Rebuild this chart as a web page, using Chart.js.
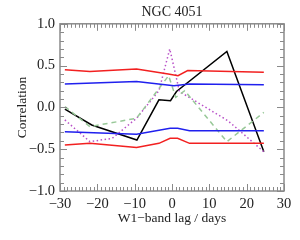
<!DOCTYPE html>
<html>
<head>
<meta charset="utf-8">
<script src="https://cdn.jsdelivr.net/npm/chart.js@4/dist/chart.umd.min.js"></script>
<style>
  html, body { margin: 0; padding: 0; background: #fff; }
  #wrap { width: 300px; height: 240px; }
</style>
</head>
<body>
<div id="wrap"><canvas id="chart" width="300" height="240"></canvas></div>
<script>
// values (lag in days, correlation)
const blackLag = [-28.7, -21.5, -9.4, -3.5, -0.4, 1.2, 14.7, 24.6];
const blackVal = [-0.02, -0.21, -0.39, 0.09, 0.08, 0.19, 0.67, -0.53];

const purpleLag = [-28.7, -22, -16, -9.5, -3.5, -0.6, 2, 15, 24.6];
const purpleVal = [-0.15, -0.41, -0.37, -0.13, 0.2, 0.70, 0.19, -0.16, -0.53];

const greenLag = [-28.7, -22, -9.5, -0.9, 1, 3.4, 14.7, 24.6];
const greenVal = [0.01, -0.23, -0.13, 0.38, 0.12, 0.2, -0.41, -0.06];

const redUpLag = [-28.7, -22, -9.5, -1, 1.6, 4.2, 24.6];
const redUpVal = [0.45, 0.43, 0.46, 0.40, 0.38, 0.44, 0.42];
const redLoLag = [-28.7, -22, -9.5, -3.5, -0.5, 1.5, 4.7, 24.6];
const redLoVal = [-0.45, -0.43, -0.48, -0.43, -0.37, -0.37, -0.43, -0.43];

const blueUpLag = [-28.7, -9.5, 0.5, 4.7, 24.6];
const blueUpVal = [0.28, 0.31, 0.26, 0.28, 0.27];
const blueLoLag = [-28.7, -9.5, -0.5, 1.5, 4.7, 24.6];
const blueLoVal = [-0.29, -0.32, -0.25, -0.25, -0.28, -0.28];

const xTicks = [-30, -20, -10, 0, 10, 20, 30];
const yTicks = [-1.0, -0.5, 0.0, 0.5, 1.0];

const FONT = '"Liberation Serif", "DejaVu Serif", serif';
const AXIS_GREY = '#8a8a8a';

function pts(lags, vals) {
  return lags.map((x, i) => ({ x: x, y: vals[i] }));
}

function line(data, color, extra) {
  return Object.assign({
    data: data,
    borderColor: color,
    borderWidth: 1.5,
    pointRadius: 0,
    tension: 0,
    fill: false
  }, extra || {});
}

function minus(s) {
  return String(s).replace('-', '\u2212');
}

// IDL-style frame with inward major and minor ticks
const framePlugin = {
  id: 'frame',
  afterDraw(chart) {
    const { ctx, chartArea: a, scales } = chart;
    const xs = scales.x, ys = scales.y;
    ctx.save();
    ctx.strokeStyle = AXIS_GREY;
    ctx.lineWidth = 1.5;
    ctx.strokeRect(a.left, a.top, a.right - a.left, a.bottom - a.top);
    ctx.lineWidth = 1;
    ctx.beginPath();
    for (let v = -30; v <= 30; v++) {
      const px = Math.round(xs.getPixelForValue(v)) + 0.5;
      const len = v % 10 === 0 ? 7 : 4;
      ctx.moveTo(px, a.bottom); ctx.lineTo(px, a.bottom - len);
      ctx.moveTo(px, a.top); ctx.lineTo(px, a.top + len);
    }
    for (let k = -10; k <= 10; k++) {
      const py = Math.round(ys.getPixelForValue(k / 10)) + 0.5;
      const len = k % 5 === 0 ? 7 : 4;
      ctx.moveTo(a.left, py); ctx.lineTo(a.left + len, py);
      ctx.moveTo(a.right, py); ctx.lineTo(a.right - len, py);
    }
    ctx.stroke();
    ctx.restore();
  }
};

new Chart(document.getElementById('chart'), {
  type: 'line',
  data: {
    datasets: [
      line(pts(redUpLag, redUpVal), '#f22020'),
      line(pts(redLoLag, redLoVal), '#f22020'),
      line(pts(blueUpLag, blueUpVal), '#2020ee'),
      line(pts(blueLoLag, blueLoVal), '#2020ee'),
      line(pts(greenLag, greenVal), '#98c898', { borderDash: [5, 4] }),
      line(pts(purpleLag, purpleVal), '#b850c8', { borderDash: [1.5, 2.5] }),
      line(pts(blackLag, blackVal), '#000000')
    ]
  },
  options: {
    responsive: false,
    animation: false,
    layout: { padding: { top: 0, right: 16, bottom: 13, left: 0 } },
    plugins: {
      legend: { display: false },
      tooltip: { enabled: false },
      title: {
        display: true,
        fullSize: false,
        text: 'NGC 4051',
        color: '#222',
        font: { family: FONT, size: 14, weight: 'normal' },
        padding: { top: 4, bottom: 3 }
      }
    },
    scales: {
      x: {
        type: 'linear',
        min: -30,
        max: 30,
        afterBuildTicks(scale) {
          scale.ticks = xTicks.map(v => ({ value: v }));
        },
        afterFit(scale) { scale.height = 36; },
        grid: { display: false, drawTicks: false },
        border: { display: false },
        ticks: {
          color: '#222',
          padding: 4,
          maxRotation: 0,
          font: { family: FONT, size: 14.5 },
          callback: v => minus(v)
        },
        title: {
          display: true,
          text: 'W1\u2212band lag / days',
          color: '#222',
          font: { family: FONT, size: 13.5 },
          padding: { top: 0, bottom: 0 }
        }
      },
      y: {
        type: 'linear',
        min: -1,
        max: 1,
        afterBuildTicks(scale) {
          scale.ticks = yTicks.map(v => ({ value: v }));
        },
        afterFit(scale) { scale.width = 60; },
        grid: { display: false, drawTicks: false },
        border: { display: false },
        ticks: {
          color: '#222',
          padding: 5,
          font: { family: FONT, size: 14.5 },
          callback: v => minus(v.toFixed(1))
        },
        title: {
          display: true,
          text: 'Correlation',
          color: '#222',
          font: { family: FONT, size: 13.5 },
          padding: { top: 14, bottom: 0 }
        }
      }
    }
  },
  plugins: [framePlugin]
});
</script>
</body>
</html>
